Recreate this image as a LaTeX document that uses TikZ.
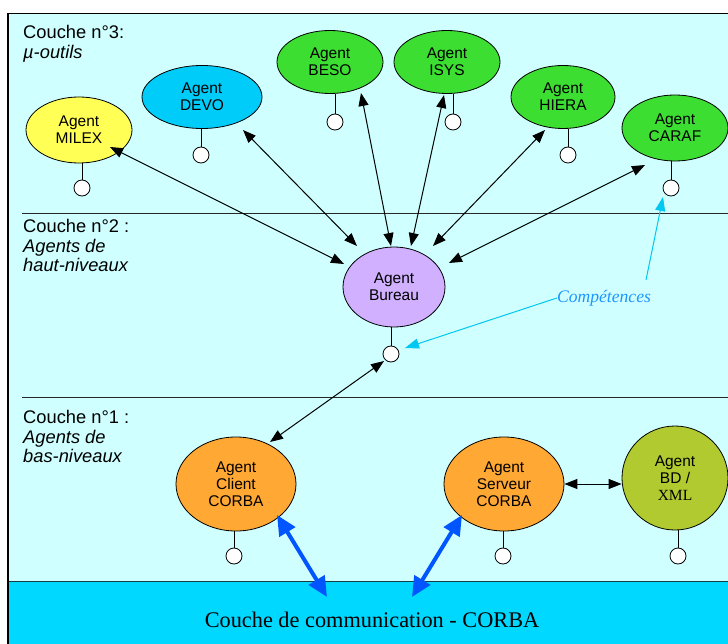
\documentclass[tikz,border=0pt]{standalone}
\usepackage{fontspec}
\setmainfont{Liberation Sans}
\newfontfamily\timesfont{Liberation Serif}
\usetikzlibrary{shapes.geometric,arrows.meta,calc}

\definecolor{bgcyan}{RGB}{208,255,255}
\definecolor{bandcyan}{RGB}{0,216,255}
\definecolor{bandedge}{RGB}{20,60,70}
\definecolor{milexyellow}{RGB}{255,255,85}
\definecolor{devoblue}{RGB}{0,204,250}
\definecolor{agentgreen}{RGB}{60,222,50}
\definecolor{bureaulav}{RGB}{208,176,255}
\definecolor{corbaorange}{RGB}{255,168,51}
\definecolor{bdolive}{RGB}{176,202,48}
\definecolor{hintcyan}{RGB}{0,200,240}
\definecolor{comptext}{RGB}{30,150,255}
\definecolor{corbablue}{RGB}{0,85,255}
\definecolor{layerline}{RGB}{40,40,40}

\tikzset{
  agent/.style={ellipse, draw=black, line width=0.8pt, inner sep=0pt,
    align=center, font=\fontsize{15.5}{16.8}\selectfont},
  port/.style={circle, draw=black, fill=white, minimum size=16pt,
    inner sep=0pt, line width=0.8pt},
  stick/.style={draw=black, line width=0.8pt},
  link/.style={line width=1pt,
    {Triangle[length=13pt,width=10pt]}-{Triangle[length=13pt,width=10pt]}},
  corbalink/.style={line width=4pt, draw=corbablue,
    {Triangle[length=20pt,width=18pt]}-{Triangle[length=20pt,width=18pt]}},
  hint/.style={line width=1pt, draw=hintcyan,
    -{Triangle[length=14pt,width=10pt]}},
  couche/.style={anchor=north west, inner sep=0pt, align=left,
    font=\fontsize{18.3}{19.7}\selectfont},
  layersep/.style={draw=layerline, line width=0.9pt},
}

\begin{document}
\begin{tikzpicture}[x=1pt,y=-1pt]
\useasboundingbox (0,0) rectangle (728,644);

% background, communication band and frame
\fill[bgcyan] (8,13.5) rectangle (728,644);
\fill[bandcyan] (8,581) rectangle (728,644);
\draw[bandedge, line width=1pt] (8,581) -- (728,581);
\draw[black, line width=1.5pt] (8,644) -- (8,13.5) -- (728,13.5);

% layer separators
\draw[layersep] (22,213) -- (728,213);
\draw[layersep] (22,397) -- (728,397);

% layer titles
\node[couche] (l3) at (23,24.9) {Couche n°3:\\\textit{µ-outils}};
\node[couche] (l2) at (23,218.9) {Couche n°2 :\\\textit{Agents de}\\\textit{haut-niveaux}};
\node[couche] (l1) at (23,409.9) {Couche n°1 :\\\textit{Agents de}\\\textit{bas-niveaux}};

% layer 3 agents
\node[agent, fill=milexyellow, minimum width=106pt, minimum height=66pt] (milex) at (79,130) {Agent\\MILEX};
\node[agent, fill=devoblue, minimum width=120pt, minimum height=63pt] (devo) at (202,97) {Agent\\DEVO};
\node[agent, fill=agentgreen, minimum width=106pt, minimum height=63pt] (beso) at (330,62) {Agent\\BESO};
\node[agent, fill=agentgreen, minimum width=106pt, minimum height=63pt] (isys) at (447,62) {Agent\\ISYS};
\node[agent, fill=agentgreen, minimum width=104pt, minimum height=63pt] (hiera) at (563,97) {Agent\\HIERA};
\node[agent, fill=agentgreen, minimum width=106pt, minimum height=66pt] (caraf) at (675,128) {Agent\\CARAF};

% layer 2 agent
\node[agent, fill=bureaulav, minimum width=102pt, minimum height=80pt] (bureau) at (394,287) {Agent\\Bureau};

% layer 1 agents
\node[agent, fill=corbaorange, minimum width=120pt, minimum height=94pt] (client) at (236,484) {Agent\\Client\\CORBA};
\node[agent, fill=corbaorange, minimum width=120pt, minimum height=94pt] (serveur) at (504,484) {Agent\\Serveur\\CORBA};
\node[agent, fill=bdolive, minimum width=106pt, minimum height=104pt] (bd) at (675,478) {Agent\\BD /\\{\timesfont XML}};

% competence ports
\node[port] (milexp) at (82,188) {};
\node[port] (devop) at (201,155) {};
\node[port] (besop) at (335,122) {};
\node[port] (isysp) at (453,122) {};
\node[port] (hierap) at (568,155) {};
\node[port] (carafp) at (671,188) {};
\node[port] (bureaup) at (391,354) {};
\node[port] (clientp) at (234,556) {};
\node[port] (serveurp) at (503,556) {};
\node[port] (bdp) at (678,556) {};

\foreach \a in {milex,devo,beso,isys,hiera,caraf,bureau,client,serveur,bd}
  \draw[stick] (\a p.north) -- (\a p |- \a.south);

% links between agents
\draw[link] ($(milex)+(31,17)$) -- ($(bureau)+(-50,-23)$);
\draw[link] ($(devo)+(41,33)$) -- ($(bureau)+(-37,-41)$);
\draw[link] ($(beso)+(31,31)$) -- ($(bureau)+(-3,-41)$);
\draw[link] ($(isys)+(-3,33)$) -- ($(bureau)+(17,-41)$);
\draw[link] ($(hiera)+(-18,33)$) -- ($(bureau)+(39,-41)$);
\draw[link] ($(caraf)+(-30,37)$) -- ($(bureau)+(55,-24)$);
\draw[link] ($(bureaup)+(-7,7)$) -- ($(client)+(34,-42)$);
\draw[link] (serveur.east) -- (serveur.east -| bd.west);

% communication layer
\node[font=\timesfont\fontsize{22.3}{26}\selectfont, anchor=base, inner sep=0pt] (comm) at (372,627) {Couche de communication - CORBA};
\coordinate (busA) at (327,597);
\coordinate (busB) at (412,597);
\draw[corbalink] ($(client)+(41,31)$) -- (busA);
\draw[corbalink] ($(serveur)+(-42,31)$) -- (busB);

% competences annotation
\node[font=\timesfont\itshape\fontsize{17.6}{20}\selectfont, text=comptext, inner sep=0pt] (comp) at (604,298) {Compétences};
\draw[hint] (comp.west) -- ($(bureaup)+(14,-6)$);
\draw[hint] ($(comp)+(42,-18)$) -- ($(carafp)+(-8,9)$);

\end{tikzpicture}
\end{document}
